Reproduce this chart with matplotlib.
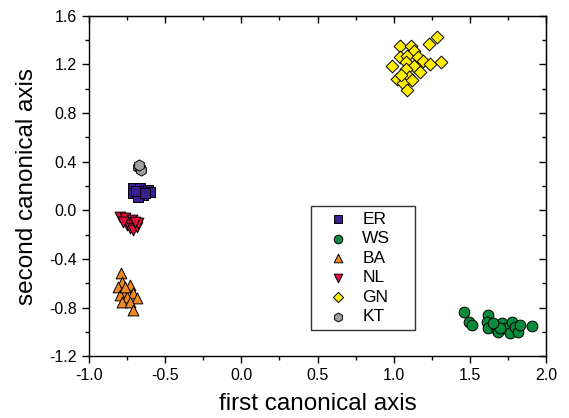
import matplotlib
matplotlib.use("Agg")
import matplotlib.pyplot as plt
from matplotlib.ticker import MultipleLocator

plt.rcParams['font.family'] = ['Liberation Sans', 'DejaVu Sans']

# group scores on the first two canonical axes
er_x = [-0.711, -0.665, -0.613, -0.711, -0.645, -0.678, -0.600, -0.690, -0.630]
er_y = [0.183, 0.183, 0.167, 0.142, 0.126, 0.109, 0.150, 0.160, 0.140]

ws_x = [1.462, 1.495, 1.515, 1.620, 1.613, 1.620, 1.666, 1.679, 1.686, 1.712,
        1.731, 1.777, 1.764, 1.797, 1.817, 1.830, 1.909, 1.699, 1.653]
ws_y = [-0.838, -0.921, -0.945, -0.863, -0.921, -0.970, -0.945, -0.987, -1.003, -0.929,
        -0.970, -0.921, -1.011, -0.962, -1.003, -0.945, -0.954, -0.970, -0.929]

ba_x = [-0.790, -0.783, -0.810, -0.731, -0.777, -0.711, -0.796, -0.750, -0.685,
        -0.783, -0.731, -0.711, -0.764]
ba_y = [-0.517, -0.591, -0.632, -0.616, -0.673, -0.682, -0.698, -0.715, -0.723,
        -0.756, -0.756, -0.822, -0.632]

nl_x = [-0.796, -0.764, -0.718, -0.750, -0.731, -0.711, -0.685, -0.678, -0.777, -0.698]
nl_y = [-0.056, -0.064, -0.080, -0.122, -0.146, -0.163, -0.138, -0.105, -0.097, -0.097]

gn_x = [1.285, 1.23, 1.04, 1.11, 1.13, 1.04, 1.09, 1.16, 1.19, 1.24, 1.31,
        0.99, 1.08, 1.13, 1.08, 1.17, 1.02, 1.10, 1.06, 1.09, 1.12, 1.05]
gn_y = [1.43, 1.37, 1.35, 1.35, 1.31, 1.26, 1.27, 1.26, 1.23, 1.20, 1.22,
        1.19, 1.22, 1.19, 1.16, 1.14, 1.08, 1.10, 1.05, 0.99, 1.07, 1.11]

kt_x = [-0.675, -0.665, -0.655, -0.670]
kt_y = [0.360, 0.345, 0.330, 0.370]

groups = [
    ("ER", er_x, er_y, "s", "#3b1f8f"),
    ("WS", ws_x, ws_y, "o", "#0a8a3c"),
    ("BA", ba_x, ba_y, "^", "#f08a24"),
    ("NL", nl_x, nl_y, "v", "#e0103c"),
    ("GN", gn_x, gn_y, "D", "#ffee00"),
    ("KT", kt_x, kt_y, "h", "#a0a0a0"),
]
sizes = {"s": 55, "o": 60, "^": 60, "v": 60, "D": 42, "h": 65}

fig = plt.figure(figsize=(5.69, 4.18), dpi=100)
ax = fig.add_axes([0.156, 0.148, 0.804, 0.814])

for name, xs, ys, mk, col in groups:
    ax.scatter(xs, ys, marker=mk, s=sizes[mk], c=col, edgecolors="black",
               linewidths=0.7, label=name, zorder=3)

ax.set_xlim(-1.0, 2.0)
ax.set_ylim(-1.2, 1.6)
ax.xaxis.set_major_locator(MultipleLocator(0.5))
ax.xaxis.set_minor_locator(MultipleLocator(0.25))
ax.yaxis.set_major_locator(MultipleLocator(0.4))
ax.yaxis.set_minor_locator(MultipleLocator(0.2))
ax.xaxis.set_major_formatter(plt.FormatStrFormatter("%.1f"))
ax.yaxis.set_major_formatter(plt.FormatStrFormatter("%.1f"))
ax.tick_params(which="major", direction="out", length=5, width=1, labelsize=11.5)
ax.tick_params(which="minor", direction="out", length=3, width=1)

# mirrored inward ticks on top and right
top = ax.secondary_xaxis("top")
top.xaxis.set_major_locator(MultipleLocator(0.5))
top.xaxis.set_minor_locator(MultipleLocator(0.25))
top.tick_params(which="major", direction="in", length=5, width=1, labeltop=False)
top.tick_params(which="minor", direction="in", length=3, width=1)
right = ax.secondary_yaxis("right")
right.yaxis.set_major_locator(MultipleLocator(0.4))
right.yaxis.set_minor_locator(MultipleLocator(0.2))
right.tick_params(which="major", direction="in", length=5, width=1, labelright=False)
right.tick_params(which="minor", direction="in", length=3, width=1)

for sp in ax.spines.values():
    sp.set_linewidth(1)

ax.set_xlabel("first canonical axis", fontsize=17.5, labelpad=7)
ax.set_ylabel("second canonical axis", fontsize=17.5, labelpad=8)

leg = ax.legend(loc="lower left", bbox_to_anchor=(0.486, 0.076, 0.228, 0.374),
                mode="expand", fontsize=12.5, markerscale=0.8,
                frameon=True, fancybox=False, edgecolor="black",
                handletextpad=0.2, labelspacing=0.25, borderpad=0.35,
                handlelength=2.4, borderaxespad=0)
leg.get_frame().set_linewidth(1)

fig.savefig("out.png", dpi=100)
